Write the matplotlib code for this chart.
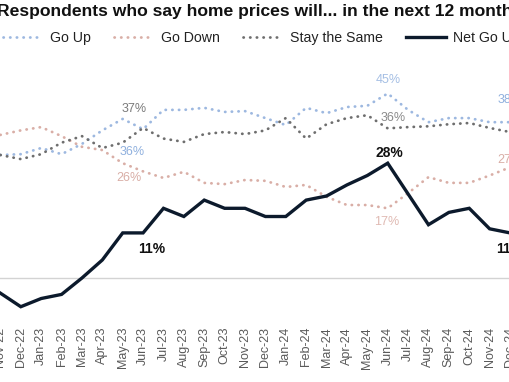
import matplotlib
matplotlib.use('Agg')
import matplotlib.pyplot as plt
import pandas as pd

# Monthly survey readings (%), Nov-22 .. Dec-24
months = list(pd.date_range('2022-11-01', periods=26, freq='MS').strftime('%b-%y'))
go_up = [30, 30.2, 31.7, 30.2, 32.7, 36, 38.8, 36.3, 41, 41,
         41.5, 40.5, 40.7, 39, 37.3, 41.5, 40.2, 41.7, 42, 45,
         41, 38, 39, 39, 38, 38]
go_down = [34.9, 36, 36.8, 34.6, 32, 31.2, 28, 26, 24.4, 25.9,
           23.2, 22.9, 23.9, 23.7, 22.2, 22.7, 19.8, 17.8, 17.8, 17,
           20.7, 24.6, 23.2, 23.2, 25, 27]
stay_same = [30, 29, 30.2, 33, 34.6, 31.7, 33, 36.6, 34, 33.2,
             35.1, 35.6, 35.1, 36, 39, 34, 37.5, 39, 39.7, 36.5,
             36.8, 37, 37.5, 37.8, 36.6, 35.6]
net_go_up = [-3.7, -7, -5, -4, 0, 4.4, 11, 11, 17, 15,
             19, 17, 17, 15, 15, 19, 20, 22.7, 25, 28,
             20.5, 13, 16, 17, 12, 11]

plt.rcParams['font.family'] = ['Liberation Sans', 'DejaVu Sans']

c_up = '#9db8e0'
c_down = '#d9aea6'
c_same = '#6e6e6e'
c_net = '#0c1a2c'
dots = (0, (0.1, 2.3))

fig = plt.figure(figsize=(5.1, 3.82), dpi=100)
ax = fig.add_axes([0, 62 / 382, 1, 320 / 382])
ax.set_facecolor('none')

x = list(range(len(months)))
ax.axhline(0, color='#d3d3d3', lw=1, zorder=1)
ax.plot(x, go_up, color=c_up, lw=2.0, ls=dots, dash_capstyle='round', label='Go Up')
ax.plot(x, go_down, color=c_down, lw=2.0, ls=dots, dash_capstyle='round', label='Go Down')
ax.plot(x, stay_same, color=c_same, lw=2.0, ls=dots, dash_capstyle='round', label='Stay the Same')
ax.plot(x, net_go_up, color=c_net, lw=2.4, solid_joinstyle='miter', label='Net Go Up')

# the source is a crop: Nov-22 sits on the left edge, Dec-24 just past the right one
ax.set_xlim(-0.02, 24.63)
ax.set_ylim(-10.24, 67.8)
ax.set_xticks(x)
ax.set_xticklabels(months, rotation=90, fontsize=9, color='#5a5a5a')
ax.tick_params(axis='x', length=0, pad=5)
ax.set_yticks([])
for s in ax.spines.values():
    s.set_visible(False)


def label(i, series, txt, color, dx, dy, bold=False, size=9):
    ax.annotate(txt, xy=(i, series[i]), xytext=(dx, dy), textcoords='offset points',
                ha='center', va='center', color=color, fontsize=size,
                fontweight='bold' if bold else 'normal', annotation_clip=False)


# Jun-23
label(7, stay_same, '37%', '#7a7a7a', -6.5, 13.5)
label(7, go_up, '36%', '#8fb0de', -8, -16.5)
label(7, go_down, '26%', '#d9aea6', -10, -4.5)
label(7, net_go_up, '11%', '#111111', 6.5, -11.5, bold=True, size=10)
# Jun-24
label(19, go_up, '45%', '#a5bfe4', 0.5, 10)
label(19, stay_same, '36%', '#8a8a8a', 4, 7.5)
label(19, net_go_up, '28%', '#111111', 1, 7.2, bold=True, size=10)
label(19, go_down, '17%', '#e0bab3', -0.5, -10)
# Dec-24 (cut at the right edge)
label(25, go_up, '38%', '#8fb0de', 0, 16)
label(25, go_down, '27%', '#d9aea6', 0, 5.5)
label(25, net_go_up, '11%', '#111111', 0, -11.5, bold=True, size=10)

fig.text(-3 / 510, 1 - 16 / 382, 'Respondents who say home prices will... in the next 12 months',
         ha='left', va='baseline', fontsize=12.6, fontweight='bold', color='#111111')

handles, labels = ax.get_legend_handles_labels()
fig.legend(handles, labels, loc='center left', bbox_to_anchor=(3 / 510, 1 - 38 / 382),
           ncol=4, frameon=False, fontsize=10.2, handlelength=2.8, handletextpad=0.5,
           columnspacing=1.65, borderpad=0, borderaxespad=0, labelcolor='#222222')

fig.savefig('out.png', dpi=100)
